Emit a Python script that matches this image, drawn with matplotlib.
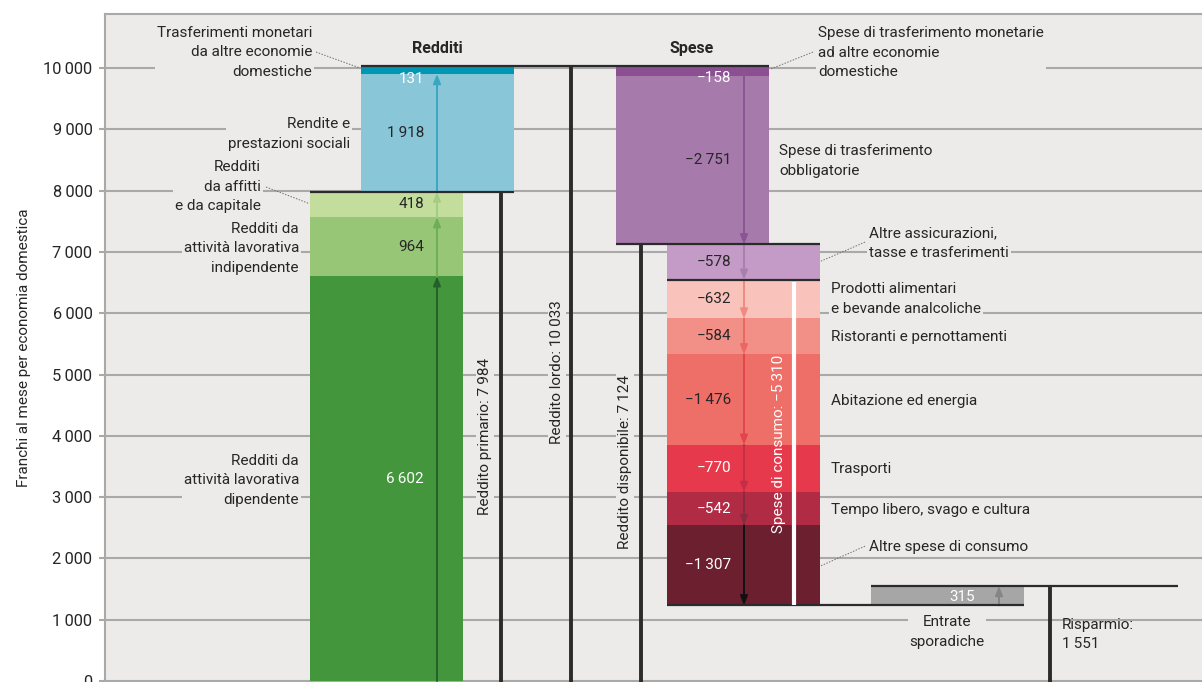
import matplotlib
matplotlib.use('Agg')
import matplotlib.pyplot as plt
import numpy as np

# dati (franchi al mese per economia domestica)
redditi_labels = ["Redditi da\nattività lavorativa\ndipendente",
                  "Redditi da\nattività lavorativa\nindipendente",
                  "Redditi\nda affitti\ne da capitale",
                  "Rendite e\nprestazioni sociali",
                  "Trasferimenti monetari\nda altre economie\ndomestiche"]
redditi_values = [6602, 964, 418, 1918, 131]

spese_labels = ["Spese di trasferimento monetarie\nad altre economie\ndomestiche",
                "Spese di trasferimento\nobbligatorie",
                "Altre assicurazioni,\ntasse e trasferimenti",
                "Prodotti alimentari\ne bevande analcoliche",
                "Ristoranti e pernottamenti",
                "Abitazione ed energia",
                "Trasporti",
                "Tempo libero, svago e cultura",
                "Altre spese di consumo"]
spese_values = [-158, -2751, -578, -632, -584, -1476, -770, -542, -1307]

entrate_sporadiche = 315
reddito_primario = 7984
reddito_lordo = 10033
reddito_disponibile = 7124
spese_consumo = -5310
risparmio = 1551
yticks = [0, 1000, 2000, 3000, 4000, 5000, 6000, 7000, 8000, 9000, 10000]

# stile
BG = '#ecebea'
GRID = '#a9a9a9'
TXT = '#262626'
LINE = '#2b2b2b'
plt.rcParams['font.family'] = ['Roboto', 'DejaVu Sans']
FS = 11
LS = 1.5

red_colors = ['#43963b', '#98c677', '#c3dd9d', '#88c6d8', '#0097b5']
red_arrow = ['#24612a', '#6fae58', '#a5cc85', '#3aa7c2', None]
red_txt = ['white', TXT, TXT, TXT, 'white']
spe_colors = ['#8c4f91', '#a67aab', '#c39bc6', '#f9c3bb', '#f28f86',
              '#ee6e68', '#e63a4c', '#b12b45', '#6b1f2f']
spe_arrow = [None, '#8a5592', '#a97fb0', '#f08a80', '#ea6763',
             '#e2454e', '#c62d46', '#8a2a3e', '#111111']
spe_txt = ['white', TXT, TXT, TXT, TXT, TXT, 'white', 'white', 'white']

# colonne (pixel)
red_cols = [(310, 463)] * 3 + [(361, 514)] * 2
spe_cols = [(616, 769)] * 2 + [(667, 820)] * 7
gray_col = (871, 1024)
x_arrow_red = 437
x_arrow_spe = 744
x_lab_red = 424
x_lab_spe = 731


def fmt(v):
    s = f"{abs(v):,}".replace(",", "\u2009")
    return ("\u2212" + s) if v < 0 else s


def label_box():
    return dict(boxstyle='square,pad=0.12', fc=BG, ec='none')


fig = plt.figure(figsize=(12.02, 6.82), dpi=100)
ax = fig.add_axes([105 / 1202, 0, 1 - 105 / 1202, 668 / 682])
ax.set_facecolor(BG)
ax.set_xlim(105, 1202)
ax.set_ylim(-16, 10881)

ax.set_yticks(yticks)
ax.set_yticklabels([fmt(v) for v in yticks], fontsize=11.8, color=TXT)
ax.set_xticks([])
ax.yaxis.grid(True, color=GRID, lw=1.5)
ax.set_axisbelow(True)
ax.tick_params(axis='y', length=4, width=1.5, color=GRID, pad=5)
for s in ['right', 'bottom']:
    ax.spines[s].set_visible(False)
for s in ['left', 'top']:
    ax.spines[s].set_color(GRID)
    ax.spines[s].set_linewidth(1.5)
ax.set_ylabel("Franchi al mese per economia domestica", fontsize=FS,
              color=TXT, labelpad=9)


def arrow(x, y0, y1, color):
    ax.annotate('', xy=(x, y1), xytext=(x, y0),
                arrowprops=dict(arrowstyle='-|>,head_length=0.55,head_width=0.22',
                                color=color, lw=1.4, shrinkA=0, shrinkB=0),
                zorder=4)


# Redditi
base = 0
for i, v in enumerate(redditi_values):
    x0, x1 = red_cols[i]
    ax.bar(x0, v, width=x1 - x0, bottom=base, align='edge',
           color=red_colors[i], zorder=2)
    if red_arrow[i]:
        arrow(x_arrow_red, base, base + v, red_arrow[i])
    ymid = base + v / 2 if v > 250 else base - 75
    ax.text(x_lab_red, ymid, fmt(v), ha='right', va='center', fontsize=FS,
            color=red_txt[i], zorder=6)
    base += v

# Spese
base = reddito_lordo
for i, v in enumerate(spese_values):
    x0, x1 = spe_cols[i]
    ax.bar(x0, v, width=x1 - x0, bottom=base, align='edge',
           color=spe_colors[i], zorder=2)
    if spe_arrow[i]:
        start = base - spese_values[i - 1] if abs(spese_values[i - 1]) < 250 else base
        arrow(x_arrow_spe, start, base + v, spe_arrow[i])
    ymid = base + v / 2 if abs(v) > 250 else base + v - 45
    ax.text(x_lab_spe, ymid, fmt(v), ha='right', va='center', fontsize=FS,
            color=spe_txt[i], zorder=6)
    base += v
fine_consumo = base

# Entrate sporadiche
ax.bar(gray_col[0], entrate_sporadiche, width=gray_col[1] - gray_col[0],
       bottom=fine_consumo, align='edge', color='#a6a6a6', zorder=2)
arrow(999, fine_consumo, fine_consumo + entrate_sporadiche, '#858585')
ax.text(975, fine_consumo + entrate_sporadiche / 2 - 15, fmt(entrate_sporadiche),
        ha='right', va='center', fontsize=FS, color='white', zorder=6)
saldo = fine_consumo + entrate_sporadiche

# linee dei totali
kw_h = dict(color=LINE, lw=1.6, zorder=5, solid_capstyle='butt')
kw_v = dict(color=LINE, lw=2.8, zorder=5, solid_capstyle='butt')
ax.plot([310, 514], [reddito_primario] * 2, **kw_h)
ax.plot([501, 501], [-16, reddito_primario], **kw_v)
ax.plot([361, 769], [reddito_lordo] * 2, **kw_h)
ax.plot([571, 571], [-16, reddito_lordo], **kw_v)
ax.plot([616, 820], [reddito_disponibile] * 2, **kw_h)
ax.plot([641, 641], [-16, reddito_disponibile], **kw_v)
sotto_ass = reddito_disponibile + spese_values[2]
ax.plot([667, 820], [sotto_ass] * 2, **kw_h)
ax.plot([667, 1024], [fine_consumo] * 2, **kw_h)
ax.plot([871, 1178], [saldo] * 2, **kw_h)
ax.plot([1050, 1050], [-16, saldo], **kw_v)
ax.plot([794, 794], [sotto_ass - 40, fine_consumo], color='white', lw=3,
        zorder=5, solid_capstyle='butt')

# etichette verticali
ax.text(485, 3990, f"Reddito primario: {fmt(reddito_primario)}", rotation=90,
        ha='center', va='center', fontsize=FS, color=TXT, bbox=label_box(), zorder=6)
ax.text(557, 5040, f"Reddito lordo: {fmt(reddito_lordo)}", rotation=90,
        ha='center', va='center', fontsize=FS, color=TXT, bbox=label_box(), zorder=6)
ax.text(625, 3570, f"Reddito disponibile: {fmt(reddito_disponibile)}", rotation=90,
        ha='center', va='center', fontsize=FS, color=TXT, bbox=label_box(), zorder=6)
ax.text(779, 3866, f"Spese di consumo: {fmt(spese_consumo)}", rotation=90,
        ha='center', va='center', fontsize=FS, color='white', zorder=6)

# titoli colonne
ax.text(437, 10320, "Redditi", ha='center', va='center', fontsize=11.5,
        fontweight='bold', color=TXT)
ax.text(692, 10320, "Spese", ha='center', va='center', fontsize=11.5,
        fontweight='bold', color=TXT)

# etichette categorie redditi
red_lab_pos = [(299, 3279), (299, 7063), (261, 8059), (350, 8923), (312, 10260)]
for lab, (x, y) in zip(redditi_labels, red_lab_pos):
    ax.text(x, y, lab, ha='right', va='center', fontsize=FS, color=TXT,
            linespacing=LS, bbox=label_box(), zorder=6)

# etichette categorie spese
spe_lab_pos = [(818, 10245), (779, 8483), (869, 7145), (831, 6232), (831, 5612),
               (831, 4568), (831, 3458), (831, 2790), (869, 2191)]
for lab, (x, y) in zip(spese_labels, spe_lab_pos):
    ax.text(x, y, lab, ha='left', va='center', fontsize=FS, color=TXT,
            linespacing=LS, bbox=label_box(), zorder=6)

ax.text(947, 800, "Entrate\nsporadiche", ha='center', va='center', fontsize=FS,
        color=TXT, linespacing=LS, bbox=label_box(), zorder=6)
ax.text(1062, 755, f"Risparmio:\n{fmt(risparmio)}", ha='left', va='center',
        fontsize=FS, color=TXT, linespacing=LS, zorder=6)

# linee di richiamo
kw_lead = dict(color='#707070', lw=0.7, ls=(0, (1.5, 1.5)), zorder=5)
ax.plot([316, 360], [10260, 10000], **kw_lead)
ax.plot([266, 309], [8059, 7790], **kw_lead)
ax.plot([813, 770], [10260, 9980], **kw_lead)
ax.plot([865, 821], [7160, 6850], **kw_lead)
ax.plot([865, 821], [2200, 1880], **kw_lead)

fig.savefig('out.png', dpi=100, facecolor='white')
